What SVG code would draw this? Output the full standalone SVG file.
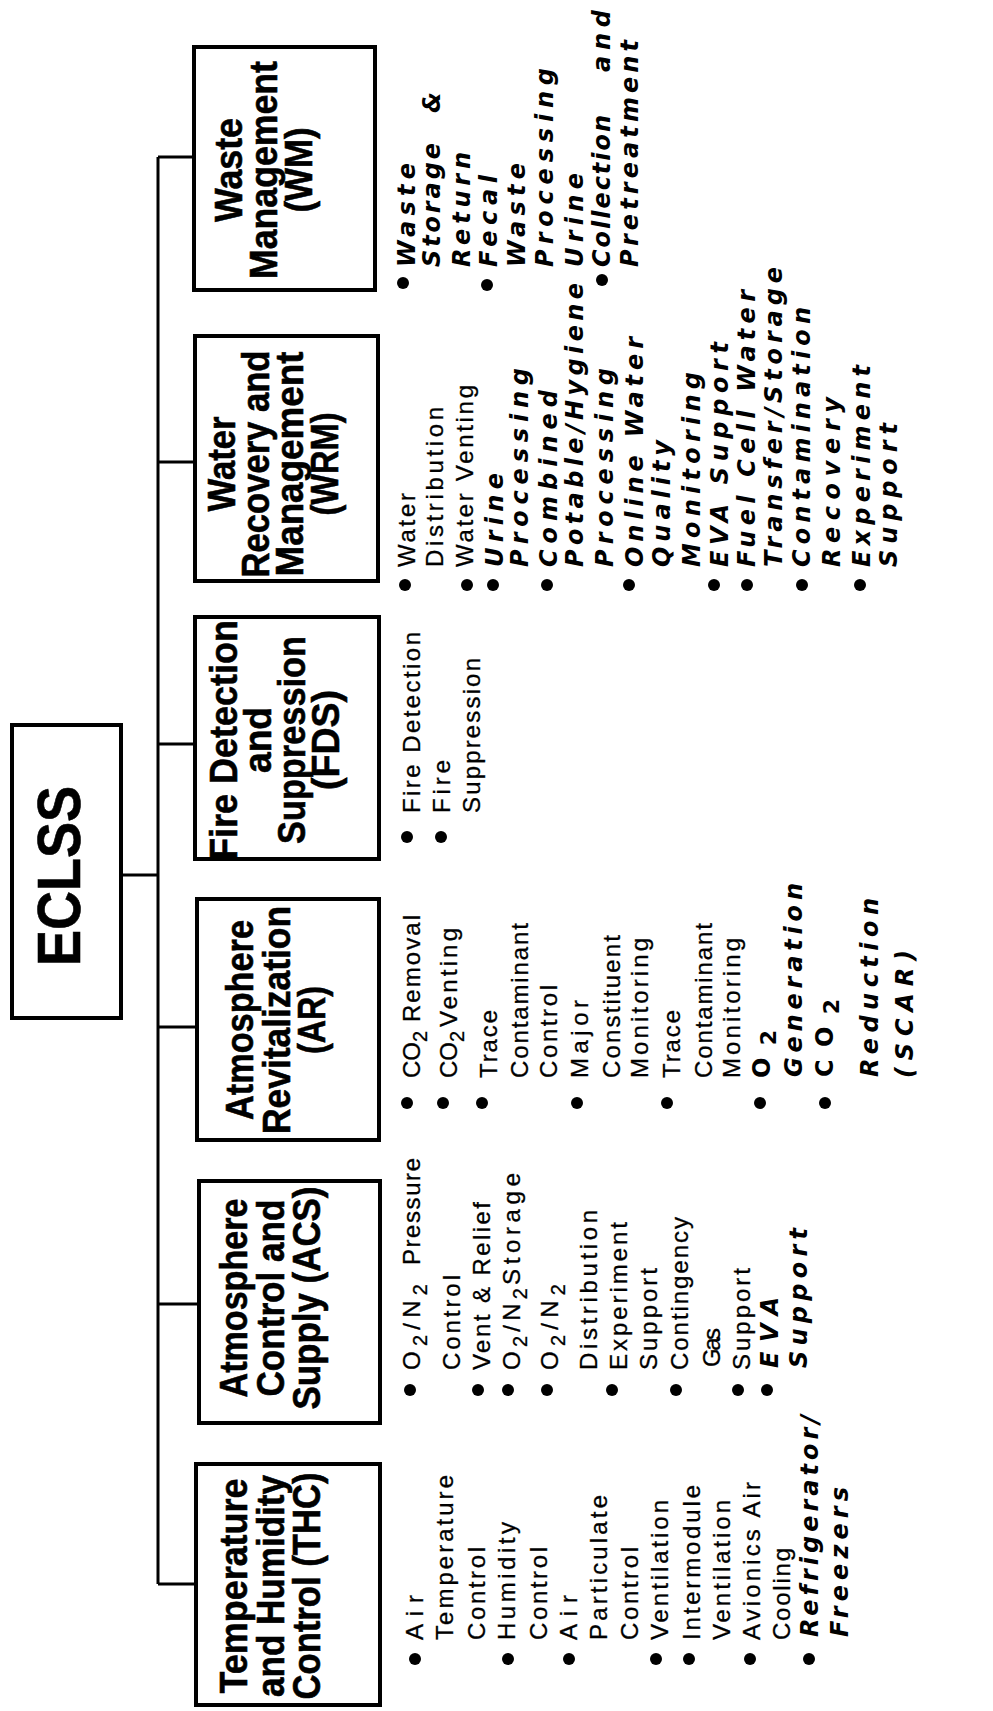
<svg xmlns="http://www.w3.org/2000/svg" width="993" height="1711" viewBox="0 0 993 1711">
<style>
  .box { fill: #fff; stroke: #000; stroke-width: 4; }
  .ln { fill: none; stroke: #000; stroke-width: 3; }
  .t { font-family: "Liberation Sans", Arial, sans-serif; font-weight: bold; font-size: 39px; text-anchor: middle; fill: #000; stroke: #000; stroke-width: 0.6; }
  .r { font-family: "Liberation Sans", Arial, sans-serif; font-size: 24px; fill: #000; stroke: #000; stroke-width: 0.3; }
  .b { font-family: "DejaVu Sans", "Liberation Sans", sans-serif; font-weight: bold; font-size: 24px; fill: #000; }
  .bi { font-family: "DejaVu Sans", "Liberation Sans", sans-serif; font-weight: bold; font-style: italic; font-size: 24px; fill: #000; }
  .s { font-size: 20px; }
  .bs { font-size: 22px; }
  .dot { fill: #000; }
</style>

<!-- connectors: trunk from ECLSS and branches to each subsystem -->
<g id="connectors">
  <path class="ln" d="M123 875 H158 M158 157 V1584 M158 157 H193 M158 462 H193 M158 744 H193 M158 1027 H195 M158 1304 H197 M158 1584 H194"/>
</g>

<!-- all labels run bottom-to-top: local x = 1711 - page y, local y = page x -->
<g id="eclss">
  <rect class="box" x="12" y="725" width="109" height="293"/>
  <g transform="rotate(-90) translate(-1711 0)">
    <text class="t" x="835" y="80" style="font-size:62px" textLength="180" lengthAdjust="spacingAndGlyphs">ECLSS</text>
  </g>
</g>

<g id="thc">
  <rect class="box" x="196" y="1464" width="184" height="241"/>
  <g transform="rotate(-90) translate(-1711 0)">
    <text class="t" x="125" y="247" textLength="215" lengthAdjust="spacingAndGlyphs">Temperature</text>
    <text class="t" x="125" y="284" textLength="222" lengthAdjust="spacingAndGlyphs">and Humidity</text>
    <text class="t" x="125" y="320" textLength="227" lengthAdjust="spacingAndGlyphs">Control (THC)</text>
    <circle class="dot" cx="52" cy="415" r="6"/>
    <circle class="dot" cx="52" cy="508" r="6"/>
    <circle class="dot" cx="52" cy="569" r="6"/>
    <circle class="dot" cx="52" cy="656" r="6"/>
    <circle class="dot" cx="52" cy="689" r="6"/>
    <circle class="dot" cx="52" cy="750" r="6"/>
    <circle class="dot" cx="52" cy="809" r="6"/>
    <text class="r" x="71" y="423" textLength="45">Air</text>
    <text class="r" x="71" y="453" textLength="165">Temperature</text>
    <text class="r" x="71" y="485" textLength="93">Control</text>
    <text class="r" x="71" y="515" textLength="118">Humidity</text>
    <text class="r" x="71" y="547" textLength="93">Control</text>
    <text class="r" x="71" y="577" textLength="45">Air</text>
    <text class="r" x="71" y="607" textLength="145">Particulate</text>
    <text class="r" x="71" y="638" textLength="93">Control</text>
    <text class="r" x="71" y="668" textLength="140">Ventilation</text>
    <text class="r" x="71" y="700" textLength="155">Intermodule</text>
    <text class="r" x="71" y="730" textLength="140">Ventilation</text>
    <text class="r" x="71" y="760" textLength="158">Avionics  Air</text>
    <text class="r" x="71" y="790" textLength="92">Cooling</text>
    <text class="bi" x="74" y="818" textLength="222">Refrigerator/</text>
    <text class="bi" x="74" y="848" textLength="150">Freezers</text>
  </g>
</g>

<g id="acs">
  <rect class="box" x="199" y="1181" width="181" height="242"/>
  <g transform="rotate(-90) translate(-1711 0)">
    <text class="t" x="413" y="247" textLength="199" lengthAdjust="spacingAndGlyphs">Atmosphere</text>
    <text class="t" x="413" y="284" textLength="197" lengthAdjust="spacingAndGlyphs">Control and</text>
    <text class="t" x="413" y="320" textLength="223" lengthAdjust="spacingAndGlyphs">Supply (ACS)</text>
    <circle class="dot" cx="321" cy="410" r="6"/>
    <circle class="dot" cx="321" cy="478" r="6"/>
    <circle class="dot" cx="321" cy="508" r="6"/>
    <circle class="dot" cx="321" cy="547" r="6"/>
    <circle class="dot" cx="321" cy="612" r="6"/>
    <circle class="dot" cx="321" cy="676" r="6"/>
    <circle class="dot" cx="321" cy="738" r="6"/>
    <circle class="dot" cx="321" cy="767" r="6"/>
    <text class="r" x="341" y="420" textLength="86">O<tspan class="s" dy="7">2</tspan><tspan dy="-7">/N</tspan><tspan class="s" dy="7">2</tspan></text>
    <text class="r" x="446" y="420" textLength="107">Pressure</text>
    <text class="r" x="341" y="460" textLength="95">Control</text>
    <text class="r" x="341" y="490" textLength="168">Vent &amp; Relief</text>
    <text class="r" x="341" y="520" textLength="82">O<tspan class="s" dy="7">2</tspan><tspan dy="-7">/N</tspan><tspan class="s" dy="7">2</tspan></text>
    <text class="r" x="426" y="520" textLength="112">Storage</text>
    <text class="r" x="341" y="558" textLength="86">O<tspan class="s" dy="7">2</tspan><tspan dy="-7">/N</tspan><tspan class="s" dy="7">2</tspan></text>
    <text class="r" x="341" y="597" textLength="160">Distribution</text>
    <text class="r" x="341" y="627" textLength="148">Experiment</text>
    <text class="r" x="341" y="657" textLength="102">Support</text>
    <text class="r" x="341" y="688" textLength="153">Contingency</text>
    <text class="r" x="344" y="720" textLength="39">Gas</text>
    <text class="r" x="341" y="750" textLength="102">Support</text>
    <text class="bi" x="343" y="778" textLength="71">EVA</text>
    <text class="bi" x="343" y="807" textLength="140">Support</text>
  </g>
</g>

<g id="ar">
  <rect class="box" x="197" y="899" width="182" height="241"/>
  <g transform="rotate(-90) translate(-1711 0)">
    <text class="t" x="691" y="253" textLength="200" lengthAdjust="spacingAndGlyphs">Atmosphere</text>
    <text class="t" x="691" y="290" textLength="228" lengthAdjust="spacingAndGlyphs">Revitalization</text>
    <text class="t" x="691" y="325" textLength="68" lengthAdjust="spacingAndGlyphs">(AR)</text>
    <circle class="dot" cx="608" cy="407" r="6"/>
    <circle class="dot" cx="608" cy="443" r="6"/>
    <circle class="dot" cx="608" cy="482" r="6"/>
    <circle class="dot" cx="608" cy="577" r="6"/>
    <circle class="dot" cx="608" cy="667" r="6"/>
    <circle class="dot" cx="608" cy="760" r="6"/>
    <circle class="dot" cx="608" cy="825" r="6"/>
    <text class="r" x="633" y="420">CO<tspan class="s" dy="7">2</tspan></text>
    <text class="r" x="689" y="420" textLength="107">Removal</text>
    <text class="r" x="633" y="457">CO<tspan class="s" dy="7">2</tspan></text>
    <text class="r" x="684" y="457" textLength="99">Venting</text>
    <text class="r" x="633" y="497" textLength="68">Trace</text>
    <text class="r" x="633" y="528" textLength="155">Contaminant</text>
    <text class="r" x="633" y="557" textLength="93">Control</text>
    <text class="r" x="633" y="588" textLength="78">Major</text>
    <text class="r" x="633" y="620" textLength="143">Constituent</text>
    <text class="r" x="633" y="648" textLength="140">Monitoring</text>
    <text class="r" x="633" y="680" textLength="68">Trace</text>
    <text class="r" x="633" y="712" textLength="155">Contaminant</text>
    <text class="r" x="633" y="740" textLength="140">Monitoring</text>
    <text class="b" x="633" y="770" textLength="48">O<tspan class="bs" dy="6">2</tspan></text>
    <text class="bi" x="634" y="802" textLength="194">Generation</text>
    <text class="b" x="634" y="833" textLength="78">CO<tspan class="bs" dy="6">2</tspan></text>
    <text class="bi" x="634" y="878" textLength="179">Reduction</text>
    <text class="bi" x="633" y="913" textLength="128">(SCAR)</text>
  </g>
</g>

<g id="fds">
  <rect class="box" x="195" y="617" width="184" height="242"/>
  <g transform="rotate(-90) translate(-1711 0)">
    <text class="t" x="971" y="237" textLength="240" lengthAdjust="spacingAndGlyphs">Fire Detection</text>
    <text class="t" x="971" y="271" textLength="66" lengthAdjust="spacingAndGlyphs">and</text>
    <text class="t" x="971" y="305" textLength="208" lengthAdjust="spacingAndGlyphs">Suppression</text>
    <text class="t" x="971" y="339" textLength="100" lengthAdjust="spacingAndGlyphs">(FDS)</text>
    <circle class="dot" cx="874" cy="407" r="6"/>
    <circle class="dot" cx="874" cy="441" r="6"/>
    <text class="r" x="898" y="420" textLength="181">Fire  Detection</text>
    <text class="r" x="898" y="450" textLength="53">Fire</text>
    <text class="r" x="898" y="480" textLength="155">Suppression</text>
  </g>
</g>

<g id="wrm">
  <rect class="box" x="195" y="336" width="183" height="245"/>
  <g transform="rotate(-90) translate(-1711 0)">
    <text class="t" x="1247" y="235" textLength="95" lengthAdjust="spacingAndGlyphs">Water</text>
    <text class="t" x="1247" y="269" textLength="227" lengthAdjust="spacingAndGlyphs">Recovery and</text>
    <text class="t" x="1247" y="303" textLength="225" lengthAdjust="spacingAndGlyphs">Management</text>
    <text class="t" x="1247" y="338" textLength="103" lengthAdjust="spacingAndGlyphs">(WRM)</text>
    <circle class="dot" cx="1126" cy="405" r="6"/>
    <circle class="dot" cx="1126" cy="467" r="6"/>
    <circle class="dot" cx="1126" cy="493" r="6"/>
    <circle class="dot" cx="1126" cy="547" r="6"/>
    <circle class="dot" cx="1126" cy="629" r="6"/>
    <circle class="dot" cx="1126" cy="714" r="6"/>
    <circle class="dot" cx="1126" cy="747" r="6"/>
    <circle class="dot" cx="1126" cy="802" r="6"/>
    <circle class="dot" cx="1126" cy="860" r="6"/>
    <text class="r" x="1144" y="415" textLength="74">Water</text>
    <text class="r" x="1144" y="443" textLength="160">Distribution</text>
    <text class="r" x="1144" y="473" textLength="182">Water Venting</text>
    <text class="bi" x="1144" y="503" textLength="94">Urine</text>
    <text class="bi" x="1144" y="528" textLength="199">Processing</text>
    <text class="bi" x="1144" y="557" textLength="177">Combined</text>
    <text class="bi" x="1144" y="583" textLength="284">Potable/Hygiene</text>
    <text class="bi" x="1144" y="613" textLength="199">Processing</text>
    <text class="bi" x="1144" y="643" textLength="230">Online  Water</text>
    <text class="bi" x="1144" y="670" textLength="127">Quality</text>
    <text class="bi" x="1144" y="700" textLength="195">Monitoring</text>
    <text class="bi" x="1144" y="728" textLength="225">EVA  Support</text>
    <text class="bi" x="1144" y="755" textLength="277">Fuel  Cell  Water</text>
    <text class="bi" x="1144" y="782" textLength="300">Transfer/Storage</text>
    <text class="bi" x="1144" y="810" textLength="260">Contamination</text>
    <text class="bi" x="1144" y="840" textLength="170">Recovery</text>
    <text class="bi" x="1144" y="870" textLength="202">Experiment</text>
    <text class="bi" x="1144" y="897" textLength="144">Support</text>
  </g>
</g>

<g id="wm">
  <rect class="box" x="194" y="47" width="181" height="243"/>
  <g transform="rotate(-90) translate(-1711 0)">
    <text class="t" x="1541" y="242" textLength="104" lengthAdjust="spacingAndGlyphs">Waste</text>
    <text class="t" x="1541" y="277" textLength="218" lengthAdjust="spacingAndGlyphs">Management</text>
    <text class="t" x="1541" y="312" textLength="85" lengthAdjust="spacingAndGlyphs">(WM)</text>
    <circle class="dot" cx="1428" cy="403" r="6"/>
    <circle class="dot" cx="1426" cy="487" r="6"/>
    <circle class="dot" cx="1431" cy="602" r="6"/>
    <text class="bi" x="1444" y="415" textLength="104">Waste</text>
    <text class="bi" x="1444" y="440" textLength="124">Storage</text>
    <text class="bi" x="1598" y="440" textLength="16">&amp;</text>
    <text class="bi" x="1444" y="470" textLength="115">Return</text>
    <text class="bi" x="1444" y="497" textLength="92">Fecal</text>
    <text class="bi" x="1444" y="525" textLength="104">Waste</text>
    <text class="bi" x="1444" y="553" textLength="199">Processing</text>
    <text class="bi" x="1444" y="583" textLength="94">Urine</text>
    <text class="bi" x="1444" y="610" textLength="152">Collection</text>
    <text class="bi" x="1639" y="610" textLength="62">and</text>
    <text class="bi" x="1444" y="638" textLength="227">Pretreatment</text>
  </g>
</g>
</svg>
